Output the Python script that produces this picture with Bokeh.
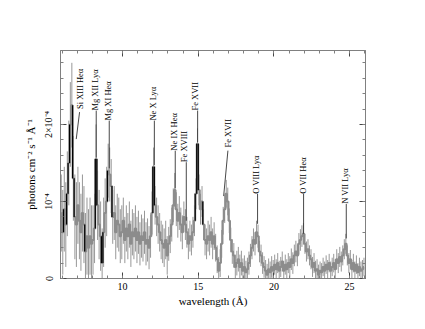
from bokeh.plotting import figure
from bokeh.models import Range1d, FixedTicker, LinearAxis, ColumnDataSource
from bokeh.embed import file_html
from bokeh.resources import INLINE
from bokeh.core.properties import value
import numpy as np

# ---------------- data ----------------
# spectrum: 0.1 A bins starting at 5.9 A; flux in units of 1e-4 photons cm^-2 s^-1 A^-1
wave_start = 5.9
bin_width = 0.1
flux = [
    0.85, 0.60, 0.90, 0.70, 1.10, 1.50, 2.00, 2.25, 1.30, 0.80,   # 5.9-6.9
    0.70, 0.95, 0.75, 0.60, 0.85, 0.70, 0.35, 0.55, 0.40, 0.55,   # 6.9-7.9
    0.45, 0.50, 0.65, 1.55, 0.95, 0.70, 0.55, 0.20, 0.60, 0.85,   # 7.9-8.9
    1.00, 1.40, 1.35, 1.20, 0.80, 0.85, 0.60, 0.75, 0.70, 0.55,   # 8.9-9.9
    0.60, 0.75, 0.50, 0.65, 0.55, 0.70, 0.45, 0.60, 0.55, 0.65,   # 9.9-10.9
    0.50, 0.60, 0.45, 0.55, 0.50, 0.60, 0.45, 0.50, 0.40, 0.55,   # 10.9-11.9
    0.85, 1.45, 0.95, 0.80, 0.70, 0.60, 0.50, 0.45, 0.40, 0.50,   # 11.9-12.9
    0.30, 0.45, 0.55, 0.70, 0.95, 1.15, 0.90, 0.75, 0.85, 0.70,   # 12.9-13.9
    0.60, 0.80, 0.70, 0.60, 0.45, 0.55, 0.50, 0.60, 0.75, 1.10,   # 13.9-14.9
    1.75, 1.15, 0.90, 1.00, 0.70, 0.50, 0.45, 0.55, 0.50, 0.60,   # 14.9-15.9
    0.45, 0.55, 0.40, 0.25, 0.10, 0.20, 0.45, 0.75, 0.90, 1.10,   # 15.9-16.9
    1.00, 0.75, 0.50, 0.35, 0.30, 0.15, 0.20, 0.25, 0.15, 0.20,   # 16.9-17.9
    0.10, 0.15, 0.08, 0.12, 0.20, 0.30, 0.40, 0.50, 0.45, 0.60,   # 17.9-18.9
    0.55, 0.35, 0.30, 0.20, 0.15, 0.10, 0.05, 0.12, 0.08, 0.15,   # 18.9-19.9
    0.10, 0.18, 0.12, 0.20, 0.10, 0.15, 0.22, 0.10, 0.18, 0.12,   # 19.9-20.9
    0.20, 0.15, 0.25, 0.20, 0.30, 0.35, 0.30, 0.45, 0.50, 0.55,   # 20.9-21.9
    0.58, 0.45, 0.35, 0.38, 0.30, 0.25, 0.15, 0.20, 0.10, 0.12,   # 21.9-22.9
    0.05, 0.10, 0.08, 0.15, 0.10, 0.18, 0.12, 0.20, 0.10, 0.15,   # 22.9-23.9
    0.20, 0.12, 0.25, 0.20, 0.28, 0.22, 0.30, 0.38, 0.45, 0.30,   # 23.9-24.9
    0.20, 0.25, 0.12, 0.20, 0.10, 0.18, 0.08, 0.15, 0.10, 0.12,   # 24.9-25.9
    0.15,
]
# 1-sigma error per whole-angstrom interval (index = floor of wavelength)
err_by_angstrom = {5: 0.50, 6: 0.55, 7: 0.50, 8: 0.45, 9: 0.35, 10: 0.30, 11: 0.28,
                   12: 0.25, 13: 0.22, 14: 0.20, 15: 0.20, 16: 0.18, 17: 0.16,
                   18: 0.15, 19: 0.14, 20: 0.13, 21: 0.14, 22: 0.13, 23: 0.12,
                   24: 0.13, 25: 0.12}

# line identifications
line_names = ["Si XIII Heα", "Mg XII Lyα", "Mg XI Heα", "Ne X Lyα", "Ne IX Heα",
              "Fe XVIII", "Fe XVII", "Fe XVII", "O VIII Lyα", "O VII Heα", "N VII Lyα"]
label_wave = [7.16, 8.17, 9.01, 11.98, 13.37, 14.06, 14.79, 16.94, 18.79, 21.90, 24.67]
label_base = [2.20, 2.18, 2.05, 2.05, 1.66, 1.51, 2.18, 1.70, 1.10, 1.10, 0.97]
lead_x0 = [7.16, 8.26, 9.12, 12.10, 13.48, 14.21, 14.96, 16.96, 18.92, 21.96, 24.78]
lead_y0 = [2.16, 2.18, 2.05, 2.05, 1.66, 1.51, 2.18, 1.66, 1.10, 1.10, 0.97]
lead_x1 = [6.94, 8.26, 9.12, 12.10, 13.48, 14.21, 14.96, 16.68, 18.92, 21.96, 24.78]
lead_y1 = [1.81, 1.57, 1.43, 1.47, 1.17, 0.75, 1.77, 1.07, 0.71, 0.58, 0.52]

x_major = [10, 15, 20, 25]
x_minor = list(range(6, 27))
y_major = [0, 1, 2]
y_labels = {0: "0", 1: "10⁻⁴", 2: "2×10⁻⁴"}
y_minor = [0.2 * k for k in range(0, 15)]

# ---------------- derived ----------------
n = len(flux)
centers = np.array([wave_start + bin_width * (i + 0.5) for i in range(n)])
fl = np.array(flux)
err = np.array([err_by_angstrom[int(np.floor(c))] for c in centers])
# histogram risers between neighbouring bins (drawn black where the jump is large)
edges = centers[:-1] + bin_width / 2
lo_r = np.minimum(fl[:-1], fl[1:])
hi_r = np.maximum(fl[:-1], fl[1:])
big = (hi_r - lo_r) > 0.3

FONT = "Liberation Serif"
FRAME = "#808080"
GREY = "#8c8c8c"

p = figure(width=420, height=322, output_backend="svg", toolbar_location=None,
           x_range=Range1d(5.9, 26.05), y_range=Range1d(0, 2.96),
           min_border_left=60, min_border_right=55, min_border_top=50, min_border_bottom=44)
p.background_fill_color = "white"
p.border_fill_color = "white"
p.outline_line_color = FRAME
p.xgrid.visible = False
p.ygrid.visible = False

# spectrum: grey error bars + grey histogram, black risers at large jumps
p.segment(x0=centers, y0=fl - err, x1=centers, y1=fl + err, line_color=GREY, line_width=0.9)
p.step(x=centers, y=fl, mode="center", line_color=GREY, line_width=2.0)
p.segment(x0=edges[big], y0=lo_r[big], x1=edges[big], y1=hi_r[big], line_color="black", line_width=1.2)

# identifications
p.segment(x0=lead_x0, y0=lead_y0, x1=lead_x1, y1=lead_y1, line_color="#333333", line_width=0.9)
src = ColumnDataSource(dict(x=label_wave, y=label_base, t=line_names))
p.text(x="x", y="y", text="t", source=src, angle=np.pi / 2, text_align="left",
       text_baseline="middle", text_font=value(FONT), text_font_size="8.5px", text_color="black")

def style_axis(ax):
    ax.axis_line_color = FRAME
    ax.major_tick_line_color = "#444444"
    ax.minor_tick_line_color = FRAME
    ax.major_tick_in = 6
    ax.major_tick_out = 0
    ax.minor_tick_in = 3
    ax.minor_tick_out = 0
    ax.major_label_text_font = FONT
    ax.major_label_text_font_size = "10px"
    ax.major_label_text_color = "black"
    ax.axis_label_text_font = FONT
    ax.axis_label_text_font_size = "11px"
    ax.axis_label_text_font_style = "normal"
    ax.axis_label_text_color = "black"

xt = FixedTicker(ticks=x_major, minor_ticks=x_minor)
yt = FixedTicker(ticks=y_major, minor_ticks=y_minor)

p.xaxis.ticker = xt
p.yaxis.ticker = yt
style_axis(p.xaxis[0])
style_axis(p.yaxis[0])
p.xaxis.axis_label = "wavelength (Å)"
p.xaxis.axis_label_standoff = 2
p.xaxis.major_label_standoff = 4
p.yaxis.axis_label = "photons cm⁻² s⁻¹ Å⁻¹"
p.yaxis.major_label_overrides = y_labels
p.yaxis.major_label_orientation = "vertical"
p.yaxis.major_label_standoff = 6
p.yaxis.axis_label_standoff = 4

top = LinearAxis(ticker=FixedTicker(ticks=x_major, minor_ticks=x_minor))
style_axis(top)
top.major_label_overrides = {t: "" for t in x_major}
top.major_label_standoff = 0
p.add_layout(top, "above")
right = LinearAxis(ticker=FixedTicker(ticks=y_major, minor_ticks=y_minor))
style_axis(right)
right.major_label_overrides = {t: "" for t in y_major}
right.major_label_standoff = 0
p.add_layout(right, "right")

open("out.html", "w").write(file_html(p, INLINE))
